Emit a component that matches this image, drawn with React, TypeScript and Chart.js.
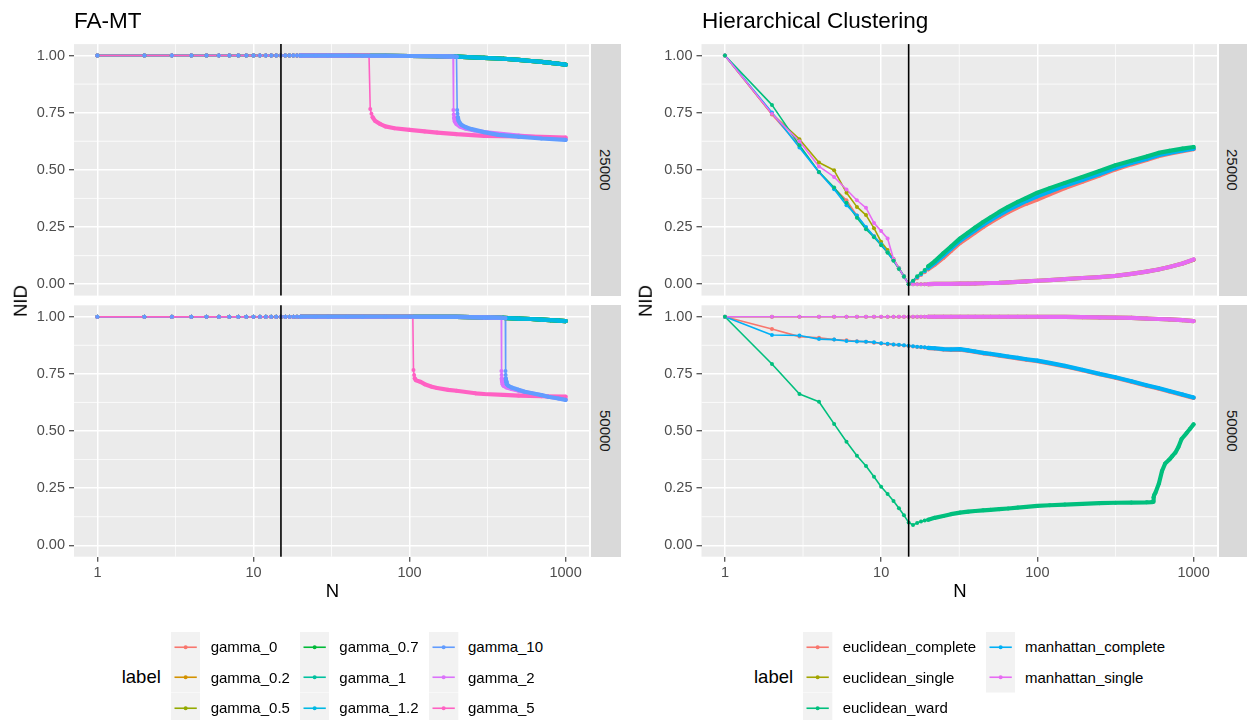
import React, { useEffect, useRef } from 'react';
import { Chart, registerables } from 'chart.js';

Chart.register(...registerables);

const FONT = '"Liberation Sans", Arial, Helvetica, sans-serif';

// ---------- axes ----------
const X_TICKS = [1, 10, 100, 1000];
const X_MINOR = [3.1623, 31.623, 316.23];
const X_MIN = 0.70795;
const X_MAX = 1412.54;
const Y_TICKS = [0, 0.25, 0.5, 0.75, 1];
const Y_MINOR = [0.125, 0.375, 0.625, 0.875];
const Y_MIN = -0.05;
const Y_MAX = 1.05;
const VLINE_N = 15;

// ---------- shared N grids ----------
const N_LOW = [1, 2, 3, 4, 5, 6, 7, 8, 9, 10, 11, 12, 13, 14, 15, 16, 17, 18, 19, 20];
const FLAT_LOW = [1, 1, 1, 1, 1, 1, 1, 1, 1, 1, 1, 1, 1, 1, 1, 1, 1, 1, 1, 1];

// ---------- FA-MT, 25000 ----------
const FAMT_N_STABLE = [...N_LOW, 25, 30, 40, 50, 70, 100, 150, 200, 300, 400, 500, 600, 700, 800, 900, 1000];
const FAMT25_STABLE = [...FLAT_LOW, 1, 1, 1, 0.999, 0.999, 0.998, 0.997, 0.995, 0.99, 0.986, 0.981, 0.976, 0.972, 0.968, 0.964, 0.96];
const FAMT25_G5_N = [...N_LOW, 25, 30, 40, 50, 55, 56, 57, 58, 60, 65, 70, 80, 100, 125, 150, 200, 300, 500, 700, 1000];
const FAMT25_G5 = [...FLAT_LOW, 1, 1, 1, 1, 1, 0.766, 0.745, 0.73, 0.715, 0.7, 0.69, 0.682, 0.675, 0.668, 0.663, 0.656, 0.649, 0.646, 0.644, 0.641];
const FAMT25_G2_N = [...N_LOW, 25, 30, 40, 50, 70, 100, 150, 190, 191, 192, 193, 195, 200, 210, 230, 260, 300, 400, 500, 700, 1000];
const FAMT25_G2 = [...FLAT_LOW, 1, 1, 1, 0.999, 0.999, 0.998, 0.997, 0.995, 0.762, 0.742, 0.728, 0.712, 0.7, 0.69, 0.68, 0.672, 0.665, 0.656, 0.65, 0.641, 0.634];
const FAMT25_G10_N = [...N_LOW, 25, 30, 40, 50, 70, 100, 150, 200, 201, 202, 203, 204, 206, 210, 215, 230, 250, 300, 370, 500, 700, 1000];
const FAMT25_G10 = [...FLAT_LOW, 1, 1, 1, 0.999, 0.999, 0.998, 0.997, 0.995, 0.995, 0.762, 0.745, 0.73, 0.715, 0.705, 0.697, 0.686, 0.678, 0.665, 0.653, 0.645, 0.637, 0.631];

// ---------- FA-MT, 50000 ----------
const FAMT50_STABLE = [...FLAT_LOW, 1, 1, 1, 1, 1, 1, 0.999, 0.999, 0.997, 0.995, 0.992, 0.99, 0.987, 0.985, 0.983, 0.981];
const FAMT50_G5_N = [...N_LOW, 25, 30, 40, 50, 70, 100, 105, 106, 107, 108, 110, 117, 125, 139, 150, 177, 200, 264, 300, 400, 500, 700, 1000];
const FAMT50_G5 = [...FLAT_LOW, 1, 1, 1, 1, 1, 1, 0.999, 0.767, 0.745, 0.73, 0.722, 0.716, 0.705, 0.694, 0.688, 0.68, 0.676, 0.665, 0.662, 0.658, 0.655, 0.652, 0.65];
const FAMT50_G2_N = [...N_LOW, 25, 30, 40, 50, 70, 100, 150, 200, 300, 387, 388, 389, 390, 392, 395, 400, 420, 451, 500, 548, 600, 700, 776, 900, 1000];
const FAMT50_G2 = [...FLAT_LOW, 1, 1, 1, 1, 1, 1, 0.999, 0.999, 0.997, 0.995, 0.762, 0.745, 0.73, 0.715, 0.705, 0.698, 0.69, 0.684, 0.676, 0.67, 0.665, 0.656, 0.65, 0.644, 0.638];
const FAMT50_G10_N = [...N_LOW, 25, 30, 40, 50, 70, 100, 150, 200, 300, 400, 411, 412, 413, 414, 416, 420, 430, 451, 500, 548, 600, 700, 776, 900, 1000];
const FAMT50_G10 = [...FLAT_LOW, 1, 1, 1, 1, 1, 1, 0.999, 0.999, 0.997, 0.995, 0.994, 0.762, 0.745, 0.73, 0.715, 0.705, 0.698, 0.69, 0.68, 0.672, 0.666, 0.657, 0.65, 0.642, 0.636];

// ---------- Hierarchical clustering ----------
const HC_N = [...N_LOW, 22, 25, 28, 32, 36, 40, 45, 50, 57, 65, 75, 85, 100, 120, 150, 194, 250, 316, 400, 500, 595, 700, 850, 1000];
const HC25_E_COMPLETE = [1, 0.742, 0.605, 0.49, 0.42, 0.367, 0.3, 0.245, 0.21, 0.175, 0.14, 0.105, 0.07, 0.035, 0, 0.01, 0.026, 0.04, 0.052, 0.065, 0.085, 0.115, 0.145, 0.18, 0.204, 0.226, 0.25, 0.27, 0.293, 0.315, 0.336, 0.352, 0.37, 0.393, 0.42, 0.448, 0.475, 0.502, 0.524, 0.543, 0.56, 0.571, 0.582, 0.59];
const HC25_E_SINGLE = [1, 0.745, 0.634, 0.532, 0.498, 0.4, 0.338, 0.302, 0.245, 0.185, 0.149, 0.11, 0.07, 0.035, 0, 0, 0, 0, 0, 0, 0.001, 0.001, 0.001, 0.002, 0.002, 0.003, 0.004, 0.005, 0.006, 0.008, 0.01, 0.012, 0.015, 0.018, 0.022, 0.027, 0.031, 0.036, 0.045, 0.055, 0.064, 0.075, 0.09, 0.107];
const HC25_E_WARD = [1, 0.784, 0.608, 0.491, 0.423, 0.356, 0.29, 0.24, 0.205, 0.17, 0.137, 0.102, 0.066, 0.032, 0, 0.015, 0.035, 0.048, 0.062, 0.078, 0.1, 0.135, 0.165, 0.2, 0.225, 0.248, 0.272, 0.292, 0.316, 0.338, 0.36, 0.377, 0.4, 0.42, 0.443, 0.469, 0.495, 0.52, 0.54, 0.558, 0.574, 0.583, 0.593, 0.6];
const HC25_M_COMPLETE = [1, 0.751, 0.598, 0.49, 0.415, 0.345, 0.3, 0.25, 0.21, 0.175, 0.14, 0.105, 0.07, 0.035, 0, 0.012, 0.03, 0.043, 0.056, 0.07, 0.092, 0.125, 0.155, 0.19, 0.214, 0.236, 0.26, 0.28, 0.303, 0.325, 0.346, 0.364, 0.384, 0.405, 0.43, 0.456, 0.482, 0.508, 0.53, 0.548, 0.564, 0.574, 0.585, 0.593];
const HC25_M_SINGLE = [1, 0.745, 0.625, 0.515, 0.469, 0.414, 0.367, 0.334, 0.268, 0.232, 0.2, 0.11, 0.069, 0.032, 0, 0, 0, 0, 0, 0, 0.001, 0.001, 0.001, 0.002, 0.002, 0.003, 0.004, 0.005, 0.006, 0.008, 0.01, 0.012, 0.015, 0.018, 0.022, 0.027, 0.031, 0.036, 0.045, 0.055, 0.064, 0.075, 0.09, 0.108];

const HC50_E_COMPLETE = [1, 0.946, 0.913, 0.908, 0.9, 0.897, 0.893, 0.89, 0.886, 0.883, 0.88, 0.878, 0.876, 0.874, 0.872, 0.87, 0.868, 0.866, 0.865, 0.863, 0.861, 0.857, 0.855, 0.856, 0.851, 0.846, 0.84, 0.836, 0.83, 0.824, 0.818, 0.812, 0.806, 0.796, 0.783, 0.766, 0.748, 0.733, 0.716, 0.698, 0.686, 0.673, 0.658, 0.645];
const HC50_E_SINGLE = [...FLAT_LOW, 1, 1, 1, 1, 1, 1, 1, 1, 1, 1, 1, 1, 1, 0.999, 0.999, 0.998, 0.997, 0.996, 0.995, 0.992, 0.99, 0.988, 0.985, 0.981];
const HC50_M_COMPLETE = [1, 0.92, 0.918, 0.902, 0.9, 0.894, 0.892, 0.891, 0.888, 0.884, 0.882, 0.879, 0.877, 0.875, 0.873, 0.871, 0.869, 0.867, 0.866, 0.864, 0.862, 0.858, 0.857, 0.858, 0.853, 0.848, 0.842, 0.838, 0.832, 0.826, 0.82, 0.814, 0.808, 0.798, 0.785, 0.768, 0.75, 0.735, 0.718, 0.7, 0.688, 0.675, 0.66, 0.647];
const HC50_M_SINGLE = [...FLAT_LOW, 1, 1, 1, 1, 1, 1, 1, 1, 1, 1, 1, 1, 1, 0.999, 0.999, 0.998, 0.997, 0.996, 0.995, 0.992, 0.99, 0.988, 0.985, 0.981];
const HC50_WARD_N = [...N_LOW, 22, 25, 28, 32, 36, 40, 45, 50, 57, 65, 75, 85, 100, 120, 150, 194, 250, 316, 400, 500, 540, 550, 555, 560, 570, 600, 628, 658, 700, 730, 764, 800, 838, 900, 950, 1000];
const HC50_E_WARD = [1, 0.793, 0.662, 0.628, 0.531, 0.453, 0.392, 0.347, 0.3, 0.256, 0.224, 0.194, 0.162, 0.131, 0.1, 0.089, 0.098, 0.104, 0.108, 0.112, 0.12, 0.128, 0.136, 0.143, 0.147, 0.15, 0.153, 0.155, 0.158, 0.161, 0.165, 0.168, 0.172, 0.175, 0.178, 0.181, 0.184, 0.186, 0.187, 0.188, 0.189, 0.19, 0.21, 0.22, 0.23, 0.27, 0.325, 0.358, 0.375, 0.39, 0.405, 0.43, 0.465, 0.49, 0.51, 0.529];

// ---------- labels & colours ----------
const FAMT_LABELS = ['gamma_0', 'gamma_0.2', 'gamma_0.5', 'gamma_0.7', 'gamma_1', 'gamma_1.2', 'gamma_10', 'gamma_2', 'gamma_5'];
const FAMT_COLORS = ['#F8766D', '#D39200', '#93AA00', '#00BA38', '#00C19F', '#00B9E3', '#619CFF', '#DB72FB', '#FF61C3'];
const HC_LABELS = ['euclidean_complete', 'euclidean_single', 'euclidean_ward', 'manhattan_complete', 'manhattan_single'];
const HC_COLORS = ['#F8766D', '#A3A500', '#00BF7D', '#00B0F6', '#E76BF3'];
const FACETS = ['25000', '50000'];

type Series = { label: string; color: string; n: number[]; v: number[] };
type Box = { L: number; R: number; T: number; B: number };

const THIN = 1.6;
const THICK = 4.2;
const DOT = 2;

function famtSeries(stable: number[], g10: [number[], number[]], g2: [number[], number[]], g5: [number[], number[]]): Series[] {
  const data: [number[], number[]][] = [
    [FAMT_N_STABLE, stable], [FAMT_N_STABLE, stable], [FAMT_N_STABLE, stable],
    [FAMT_N_STABLE, stable], [FAMT_N_STABLE, stable], [FAMT_N_STABLE, stable],
    g10, g2, g5,
  ];
  return FAMT_LABELS.map((label, i) => ({ label, color: FAMT_COLORS[i], n: data[i][0], v: data[i][1] }));
}

const FAMT25 = famtSeries(FAMT25_STABLE, [FAMT25_G10_N, FAMT25_G10], [FAMT25_G2_N, FAMT25_G2], [FAMT25_G5_N, FAMT25_G5]);
const FAMT50 = famtSeries(FAMT50_STABLE, [FAMT50_G10_N, FAMT50_G10], [FAMT50_G2_N, FAMT50_G2], [FAMT50_G5_N, FAMT50_G5]);

function hcSeries(vals: number[][], wardN: number[]): Series[] {
  return HC_LABELS.map((label, i) => ({ label, color: HC_COLORS[i], n: i === 2 ? wardN : HC_N, v: vals[i] }));
}
const HC25 = hcSeries([HC25_E_COMPLETE, HC25_E_SINGLE, HC25_E_WARD, HC25_M_COMPLETE, HC25_M_SINGLE], HC_N);
const HC50 = hcSeries([HC50_E_COMPLETE, HC50_E_SINGLE, HC50_E_WARD, HC50_M_COMPLETE, HC50_M_SINGLE], HC50_WARD_N);

// point drawing order (data row order)
const FAMT_POINT_ORDER = [0, 1, 2, 3, 4, 5, 7, 8, 6];
const HC_POINT_ORDER = [0, 1, 3, 4, 2];

const panelPlugin = {
  id: 'ggpanel',
  beforeDraw(chart: any) {
    const { ctx, chartArea: a, scales } = chart;
    ctx.save();
    ctx.fillStyle = '#EBEBEB';
    ctx.fillRect(a.left, a.top, a.right - a.left, a.bottom - a.top);
    ctx.strokeStyle = '#FFFFFF';
    ctx.lineWidth = 0.75;
    ctx.beginPath();
    for (const v of X_MINOR) {
      const x = scales.x.getPixelForValue(v);
      ctx.moveTo(x, a.top);
      ctx.lineTo(x, a.bottom);
    }
    for (const v of Y_MINOR) {
      const y = scales.y.getPixelForValue(v);
      ctx.moveTo(a.left, y);
      ctx.lineTo(a.right, y);
    }
    ctx.stroke();
    ctx.restore();
  },
  afterDatasetsDraw(chart: any) {
    const { ctx, chartArea: a, scales } = chart;
    const x = scales.x.getPixelForValue(VLINE_N);
    ctx.save();
    ctx.strokeStyle = '#000000';
    ctx.lineWidth = 1.6;
    ctx.beginPath();
    ctx.moveTo(x, a.top);
    ctx.lineTo(x, a.bottom);
    ctx.stroke();
    ctx.restore();
  },
};

function Panel({ box, series, pointOrder, showX }: { box: Box; series: Series[]; pointOrder: number[]; showX: boolean }) {
  const ref = useRef<HTMLCanvasElement | null>(null);
  const cl = Math.floor(box.L) - 74;
  const yw = box.L - cl;
  const ct = Math.floor(box.T) - 24;
  const padTop = box.T - ct;
  const cw = Math.ceil(box.R - cl);
  const padRight = cw - (box.R - cl);
  const xh = showX ? 34 : 0;
  const ch = Math.ceil(box.B - ct + xh + 20);
  const padBottom = ch - (box.B - ct) - xh;

  useEffect(() => {
    const datasets: any[] = [];
    // line layer: thin connecting lines, in factor order
    series.forEach((s, i) => {
      datasets.push({
        label: s.label,
        data: s.n.map((x, k) => ({ x, y: s.v[k] })),
        borderColor: s.color,
        backgroundColor: s.color,
        borderWidth: THIN,
        pointRadius: 0,
        pointHoverRadius: 0,
        fill: false,
        tension: 0,
        borderJoinStyle: 'round',
        borderCapStyle: 'round',
        order: 1000 - i,
      });
    });
    // point layer: dots, plus a dense band where points merge (data row order)
    pointOrder.forEach((idx, j) => {
      const s = series[idx];
      datasets.push({
        label: s.label + ' (points)',
        data: s.n.map((x, k) => ({ x, y: s.v[k] })),
        showLine: true,
        fill: false,
        tension: 0,
        borderColor: s.color,
        backgroundColor: s.color,
        borderWidth: THICK,
        borderJoinStyle: 'round',
        borderCapStyle: 'round',
        segment: {
          borderColor: (c: any) => (s.n[c.p1DataIndex] - s.n[c.p0DataIndex] > 1.01 ? s.color : 'rgba(0,0,0,0)'),
        },
        pointBackgroundColor: s.color,
        pointBorderWidth: 0,
        pointRadius: DOT,
        pointHoverRadius: DOT,
        order: 100 - j,
      });
    });
    const tickFont = { family: FONT, size: 14.5 };
    const chart = new Chart(ref.current as HTMLCanvasElement, {
      type: 'line',
      data: { datasets },
      options: {
        responsive: false,
        animation: false,
        devicePixelRatio: 1,
        events: [],
        layout: { padding: { left: 0, top: padTop, right: padRight, bottom: padBottom } },
        plugins: { legend: { display: false }, tooltip: { enabled: false } },
        scales: {
          x: {
            type: 'logarithmic',
            bounds: 'data',
            min: X_MIN,
            max: X_MAX,
            position: 'bottom',
            afterBuildTicks: (sc: any) => { sc.ticks = X_TICKS.map((value) => ({ value })); },
            afterFit: (sc: any) => { sc.height = xh; },
            ticks: {
              display: showX,
              autoSkip: false,
              maxRotation: 0,
              padding: 2.5,
              color: '#4D4D4D',
              font: tickFont,
              callback: (v: any) => String(v),
            },
            grid: { color: '#FFFFFF', lineWidth: 1.5, drawTicks: showX, tickLength: 5, tickColor: '#333333', tickWidth: 1.1 },
            border: { display: false },
          },
          y: {
            type: 'linear',
            bounds: 'data',
            min: Y_MIN,
            max: Y_MAX,
            position: 'left',
            afterBuildTicks: (sc: any) => { sc.ticks = Y_TICKS.map((value) => ({ value })); },
            afterFit: (sc: any) => { sc.width = yw; },
            ticks: {
              autoSkip: false,
              padding: 4,
              color: '#4D4D4D',
              font: tickFont,
              callback: (v: any) => Number(v).toFixed(2),
            },
            grid: { color: '#FFFFFF', lineWidth: 1.5, drawTicks: true, tickLength: 5, tickColor: '#333333', tickWidth: 1.1 },
            border: { display: false },
          },
        },
      } as any,
      plugins: [panelPlugin],
    } as any);
    return () => chart.destroy();
  }, []);

  return (
    <canvas
      ref={ref}
      width={cw}
      height={ch}
      style={{ position: 'absolute', left: cl, top: ct, width: cw, height: ch }}
    />
  );
}

function Txt({ x, cy, size, color = '#000000', center = false, children }: any) {
  return (
    <div
      style={{
        position: 'absolute',
        left: x,
        top: cy - 0.4885 * size,
        fontFamily: FONT,
        fontSize: size,
        lineHeight: `${size}px`,
        color,
        whiteSpace: 'nowrap',
        transform: center ? 'translateX(-50%)' : undefined,
      }}
    >
      {children}
    </div>
  );
}

function VTitle({ cx, cy, size, children }: any) {
  return (
    <div
      style={{
        position: 'absolute',
        left: cx,
        top: cy,
        fontFamily: FONT,
        fontSize: size,
        lineHeight: `${size}px`,
        whiteSpace: 'nowrap',
        transform: 'translate(-50%, -50%) rotate(-90deg)',
      }}
    >
      {children}
    </div>
  );
}

function Strip({ left, right, top, bottom, text }: any) {
  return (
    <div
      style={{
        position: 'absolute',
        left,
        top,
        width: right - left,
        height: bottom - top,
        background: '#D9D9D9',
        display: 'flex',
        alignItems: 'center',
        justifyContent: 'center',
      }}
    >
      <span style={{ writingMode: 'vertical-rl', fontFamily: FONT, fontSize: 15, lineHeight: '15px', color: '#1A1A1A' }}>{text}</span>
    </div>
  );
}

const KEY_W = 29.3;
const KEY_H = 30.5;
const LEG_TOP = 631.5;

function LegendKey({ x, y, color }: any) {
  return (
    <svg style={{ position: 'absolute', left: x, top: y }} width={KEY_W} height={KEY_H}>
      <rect x={0} y={0} width={KEY_W} height={KEY_H} fill="#F2F2F2" />
      <line x1={3.5} x2={KEY_W - 3.5} y1={KEY_H / 2} y2={KEY_H / 2} stroke={color} strokeWidth={1.6} />
      <circle cx={KEY_W / 2} cy={KEY_H / 2} r={2} fill={color} />
    </svg>
  );
}

function Legend({ titleX, keyXs, labelXs, labels, colors, rows }: any) {
  const items: any[] = [];
  labels.forEach((lab: string, i: number) => {
    const c = Math.floor(i / rows);
    const r = i % rows;
    const y = LEG_TOP + r * KEY_H;
    items.push(<LegendKey key={'k' + i} x={keyXs[c]} y={y} color={colors[i]} />);
    items.push(
      <Txt key={'t' + i} x={labelXs[c]} cy={y + KEY_H / 2} size={15}>
        {lab}
      </Txt>
    );
  });
  return (
    <>
      <Txt x={titleX} cy={LEG_TOP + KEY_H * 1.5} size={18.5}>label</Txt>
      {items}
    </>
  );
}

const BOX_FAMT25: Box = { L: 74, R: 591, T: 44.1, B: 295.6 };
const BOX_FAMT50: Box = { L: 74, R: 591, T: 305.3, B: 556.7 };
const BOX_HC25: Box = { L: 701.5, R: 1218.5, T: 44.1, B: 295.6 };
const BOX_HC50: Box = { L: 701.5, R: 1218.5, T: 305.3, B: 556.7 };

export default function App() {
  return (
    <div
      style={{
        position: 'fixed',
        left: 0,
        top: 0,
        width: 1247,
        height: 720,
        overflow: 'hidden',
        background: '#FFFFFF',
      }}
    >
      <Panel box={BOX_FAMT25} series={FAMT25} pointOrder={FAMT_POINT_ORDER} showX={false} />
      <Panel box={BOX_FAMT50} series={FAMT50} pointOrder={FAMT_POINT_ORDER} showX={true} />
      <Panel box={BOX_HC25} series={HC25} pointOrder={HC_POINT_ORDER} showX={false} />
      <Panel box={BOX_HC50} series={HC50} pointOrder={HC_POINT_ORDER} showX={true} />

      <Strip left={591} right={620.5} top={BOX_FAMT25.T} bottom={BOX_FAMT25.B} text={FACETS[0]} />
      <Strip left={591} right={620.5} top={BOX_FAMT50.T} bottom={BOX_FAMT50.B} text={FACETS[1]} />
      <Strip left={1218.5} right={1247} top={BOX_HC25.T} bottom={BOX_HC25.B} text={FACETS[0]} />
      <Strip left={1218.5} right={1247} top={BOX_HC50.T} bottom={BOX_HC50.B} text={FACETS[1]} />

      <Txt x={74} cy={20.7} size={22.5}>FA-MT</Txt>
      <Txt x={702} cy={20.7} size={22.5}>Hierarchical Clustering</Txt>

      <VTitle cx={20.5} cy={300.5} size={18.5}>NID</VTitle>
      <VTitle cx={645.5} cy={300.5} size={18.5}>NID</VTitle>
      <Txt x={332.5} cy={591} size={18.5} center>N</Txt>
      <Txt x={960} cy={591} size={18.5} center>N</Txt>

      <Legend
        titleX={121.7}
        keyXs={[170.7, 300, 429.3]}
        labelXs={[210.7, 339.3, 468]}
        labels={FAMT_LABELS}
        colors={FAMT_COLORS}
        rows={3}
      />
      <Legend
        titleX={754}
        keyXs={[803.3, 985.7]}
        labelXs={[842.7, 1025]}
        labels={HC_LABELS}
        colors={HC_COLORS}
        rows={3}
      />
    </div>
  );
}
